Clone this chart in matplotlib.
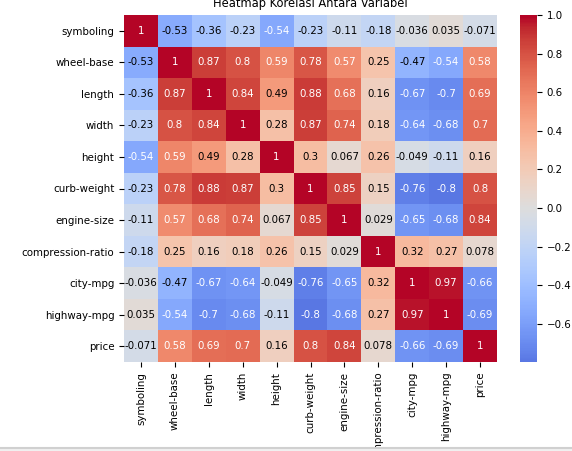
import matplotlib
matplotlib.use("Agg")
import matplotlib.pyplot as plt
import matplotlib.colors as mcolors
import numpy as np

# Variabel dan matriks korelasi
labels = ['symboling', 'wheel-base', 'length', 'width', 'height', 'curb-weight',
          'engine-size', 'compression-ratio', 'city-mpg', 'highway-mpg', 'price']

symboling = [1, -0.53, -0.36, -0.23, -0.54, -0.23, -0.11, -0.18, -0.036, 0.035, -0.071]
wheel_base = [-0.53, 1, 0.87, 0.8, 0.59, 0.78, 0.57, 0.25, -0.47, -0.54, 0.58]
length = [-0.36, 0.87, 1, 0.84, 0.49, 0.88, 0.68, 0.16, -0.67, -0.7, 0.69]
width = [-0.23, 0.8, 0.84, 1, 0.28, 0.87, 0.74, 0.18, -0.64, -0.68, 0.7]
height = [-0.54, 0.59, 0.49, 0.28, 1, 0.3, 0.067, 0.26, -0.049, -0.11, 0.16]
curb_weight = [-0.23, 0.78, 0.88, 0.87, 0.3, 1, 0.85, 0.15, -0.76, -0.797, 0.8]
engine_size = [-0.11, 0.57, 0.68, 0.74, 0.067, 0.85, 1, 0.029, -0.65, -0.68, 0.84]
compression_ratio = [-0.18, 0.25, 0.16, 0.18, 0.26, 0.15, 0.029, 1, 0.32, 0.27, 0.078]
city_mpg = [-0.036, -0.47, -0.67, -0.64, -0.049, -0.76, -0.65, 0.32, 1, 0.97, -0.66]
highway_mpg = [0.035, -0.54, -0.7, -0.68, -0.11, -0.797, -0.68, 0.27, 0.97, 1, -0.69]
price = [-0.071, 0.58, 0.69, 0.7, 0.16, 0.8, 0.84, 0.078, -0.66, -0.69, 1]

corr = np.array([symboling, wheel_base, length, width, height, curb_weight,
                 engine_size, compression_ratio, city_mpg, highway_mpg, price])

fs = 7.4
fig = plt.figure(figsize=(5.72, 4.51), dpi=100)
ax = fig.add_axes([124 / 572, 89 / 451, 373 / 572, 347 / 451])
cax = fig.add_axes([520 / 572, 89 / 451, 17 / 572, 347 / 451])

# coolwarm berpusat di 0 (seperti seaborn center=0)
vmin, vmax = corr.min(), corr.max()
vr = max(vmax, -vmin)
base = plt.get_cmap('coolwarm')
cmap = mcolors.ListedColormap(base(np.linspace(0.5 + vmin / (2 * vr), 0.5 + vmax / (2 * vr), 256)))
norm = mcolors.Normalize(vmin=vmin, vmax=vmax)

n = len(labels)
mesh = ax.pcolormesh(np.arange(n + 1), np.arange(n + 1), corr, cmap=cmap, norm=norm)
ax.set_xlim(0, n)
ax.set_ylim(n, 0)
for s in ax.spines.values():
    s.set_visible(False)

# anotasi seperti seaborn (.2g, warna teks menurut luminans)
for i in range(n):
    for j in range(n):
        v = corr[i, j]
        r, g, b, _ = cmap(norm(v))
        rgb = [c / 12.92 if c <= 0.03928 else ((c + 0.055) / 1.055) ** 2.4 for c in (r, g, b)]
        lum = 0.2126 * rgb[0] + 0.7152 * rgb[1] + 0.0722 * rgb[2]
        ax.text(j + 0.5, i + 0.5, f'{v:.2g}', ha='center', va='center',
                fontsize=fs, color='black' if lum > 0.408 else 'white')

ax.set_xticks(np.arange(n) + 0.5)
ax.set_yticks(np.arange(n) + 0.5)
ax.set_xticklabels(labels, rotation=90, fontsize=fs)
ax.set_yticklabels(labels, rotation=0, fontsize=fs)
ax.set_title('Heatmap Korelasi Antara Variabel', fontsize=8.3)

cb = fig.colorbar(mesh, cax=cax)
cb.outline.set_visible(False)
cb.ax.tick_params(labelsize=fs)

# garis abu-abu di bawah (tangkapan layar)
fig.add_artist(plt.Rectangle((0, 0), 1, 3 / 451, transform=fig.transFigure,
                             facecolor='#f0f0f0', edgecolor='none'))
fig.add_artist(plt.Line2D([0, 1], [3 / 451, 3 / 451], transform=fig.transFigure,
                          color='#d0d0d0', linewidth=1.5))

fig.savefig('out.png', dpi=100)
